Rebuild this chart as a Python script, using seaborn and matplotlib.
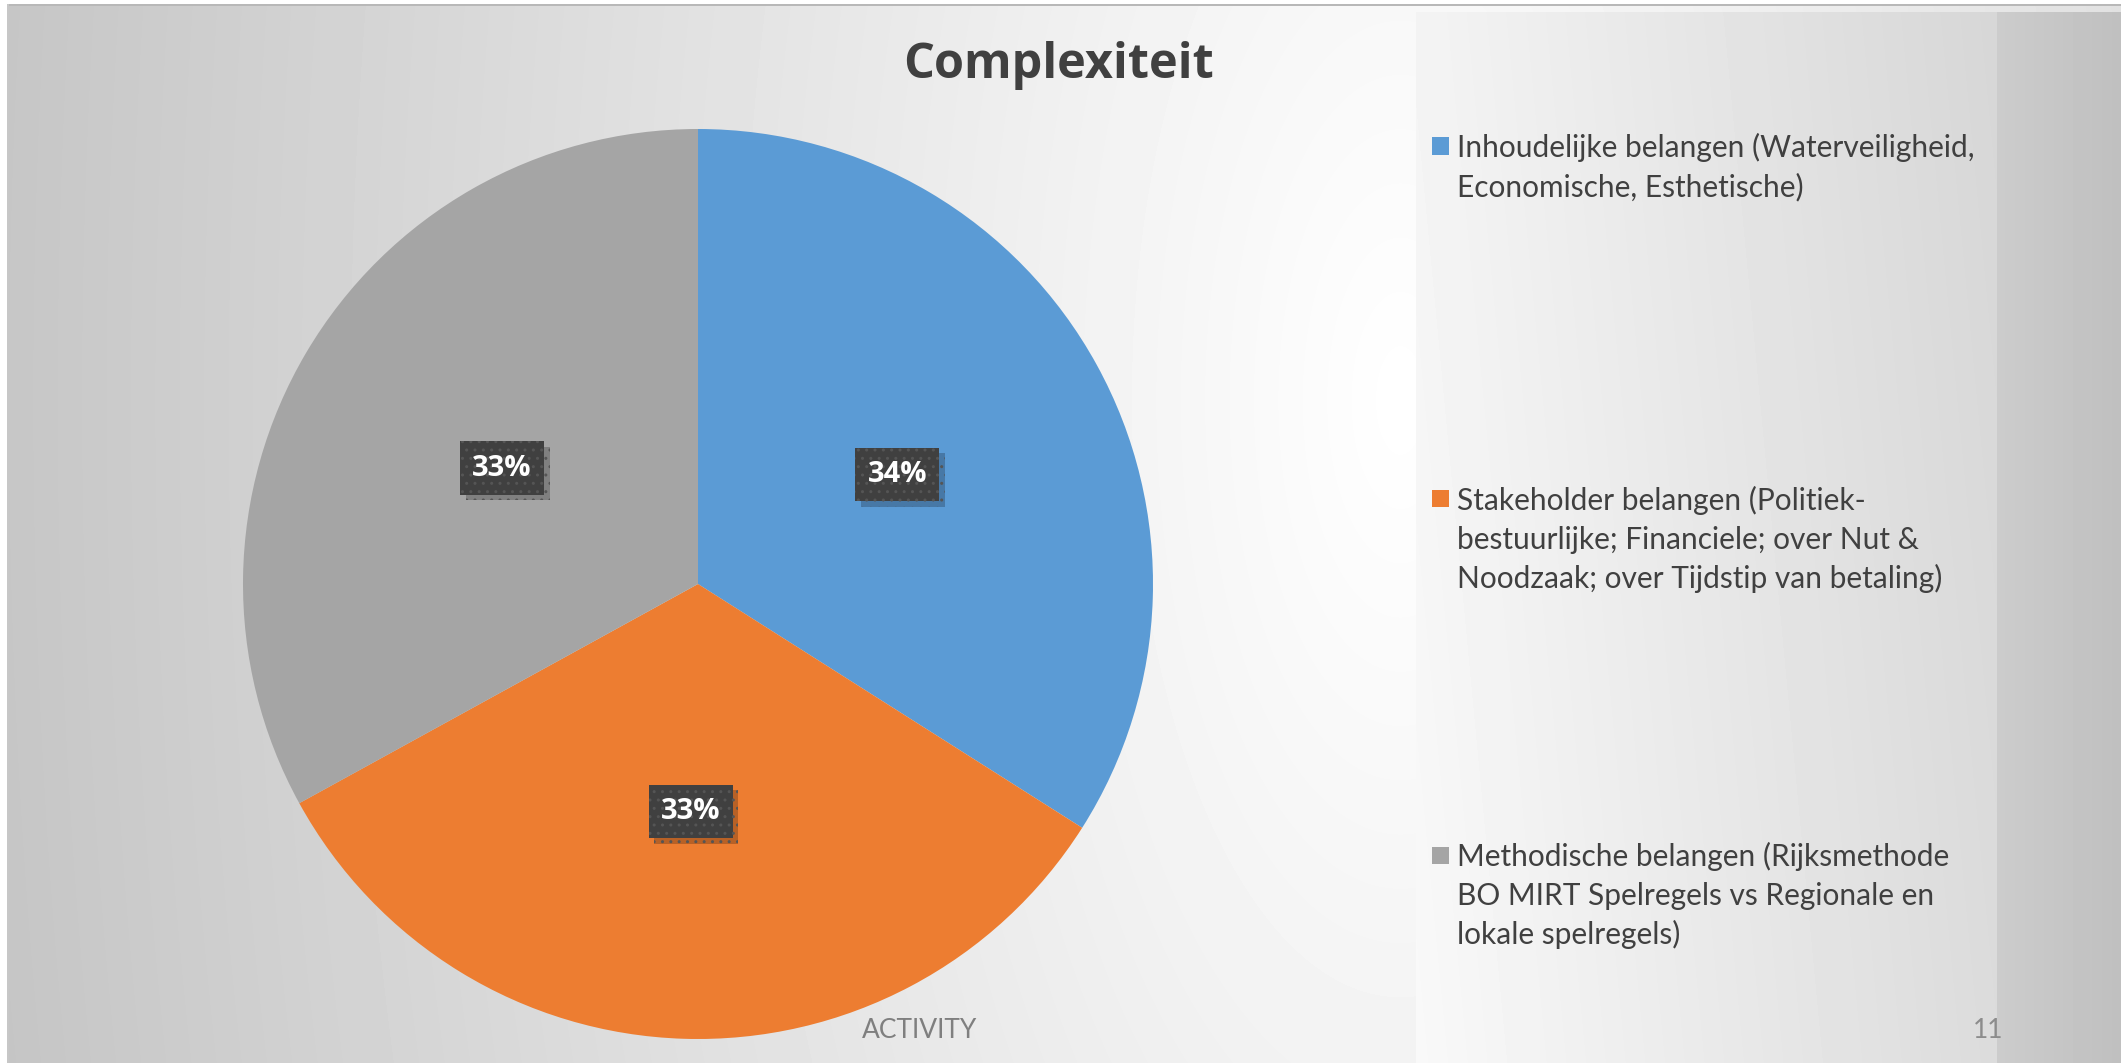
import numpy as np
import seaborn as sns
import matplotlib.pyplot as plt
import matplotlib.patches as patches
import matplotlib.patheffects as pe

# ---------------------------------------
# data
# ---------------------------------------
categories = [
    "Inhoudelijke belangen (Waterveiligheid,\nEconomische, Esthetische)",
    "Stakeholder belangen (Politiek-\nbestuurlijke; Financiele; over Nut &\nNoodzaak; over Tijdstip van betaling)",
    "Methodische belangen (Rijksmethode\nBO MIRT Spelregels vs Regionale en\nlokale spelregels)",
]
shares = [34, 33, 33]
pct_labels = ["34%", "33%", "33%"]
slice_colors = ["#5B9BD5", "#ED7D31", "#A5A5A5"]

title = "Complexiteit"
footer = "ACTIVITY"
page_no = "11"

# ---------------------------------------
# style
# ---------------------------------------
sns.set_style("white")
plt.rcParams["font.family"] = ["Lato", "DejaVu Sans"]

W, H = 2121, 1063
fig = plt.figure(figsize=(W / 100, H / 100), dpi=100)

# ---------------------------------------
# slide background (soft gradient + side panels)
# ---------------------------------------
yy, xx = np.mgrid[0:H, 0:W]
dist = np.hypot(xx - 1400, (yy - 400) * 0.45)
bg = np.clip(1.0 - 0.000160 * dist, 0.74, 1.0)
# legend panel: linear gradient
panel = (xx >= 1416) & (xx < 1997) & (yy >= 12)
bg[panel] = 0.975 - 0.115 * (xx[panel] - 1416) / 581 - 0.02 * (1 - yy[panel] / H)
# right band
band = (xx >= 1997) & (yy >= 12)
bg[band] = 0.80 - 0.05 * (xx[band] - 1997) / 124
# slide border
bg[:4, :] = 1.0
bg[:, :7] = 1.0
bg[4:6, 7:] = 0.72
bg[4:, 7:9] = 0.78

bg_ax = fig.add_axes([0, 0, 1, 1], zorder=0)
bg_ax.imshow(bg, cmap="gray", vmin=0, vmax=1, aspect="auto",
             extent=(0, W, H, 0), interpolation="bilinear")
bg_ax.set_axis_off()

# ---------------------------------------
# pie
# ---------------------------------------
cx, cy, R = 698, 584, 455
ax = fig.add_axes([(cx - R) / W, (H - cy - R) / H, 2 * R / W, 2 * R / H], zorder=1)
wedges, _ = ax.pie(shares, colors=slice_colors, startangle=90, counterclock=False,
                   radius=1, wedgeprops=dict(linewidth=0))
ax.set_xlim(-1, 1)
ax.set_ylim(-1, 1)
ax.set_axis_off()

# data labels in dark boxes
for w, lab in zip(wedges, pct_labels):
    ang = np.deg2rad((w.theta1 + w.theta2) / 2)
    x, y = 0.5 * np.cos(ang), 0.5 * np.sin(ang)
    t = ax.text(x, y, lab, ha="center", va="center", color="white",
                fontsize=21, fontweight="bold", family=["Open Sans", "DejaVu Sans"],
                bbox=dict(boxstyle="square,pad=0.42", facecolor="#404040",
                          edgecolor="#555555", linewidth=0, hatch=".."))
    t.get_bbox_patch().set_path_effects(
        [pe.SimplePatchShadow(offset=(4, -4), shadow_rgbFace="#000000", alpha=0.22), pe.Normal()])

# ---------------------------------------
# title, legend, footer
# ---------------------------------------
fig.text(1059 / W, 1 - 66 / H, title, ha="center", va="center", fontsize=35,
         fontweight="bold", color="#404040", family=["Open Sans", "DejaVu Sans"])

legend_first_line = [146, 499, 855]
line_step = 39
for lab, col, yc in zip(categories, slice_colors, legend_first_line):
    fig.patches.append(patches.Rectangle((1432 / W, 1 - (yc + 8.5) / H), 17 / W, 17 / H,
                                         transform=fig.transFigure, facecolor=col,
                                         edgecolor="none", zorder=3))
    for i, line in enumerate(lab.split("\n")):
        fig.text(1457 / W, 1 - (yc + 11 + i * line_step) / H, line, ha="left",
                 va="baseline", fontsize=21.5, color="#404040", zorder=3)

fig.text(920 / W, 1 - 1031 / H, footer, ha="center", va="center", fontsize=19,
         color="#7f7f7f")
fig.text(1988 / W, 1 - 1030 / H, page_no, ha="center", va="center", fontsize=19,
         color="#8c8c8c")

fig.savefig("out.png", dpi=100)
